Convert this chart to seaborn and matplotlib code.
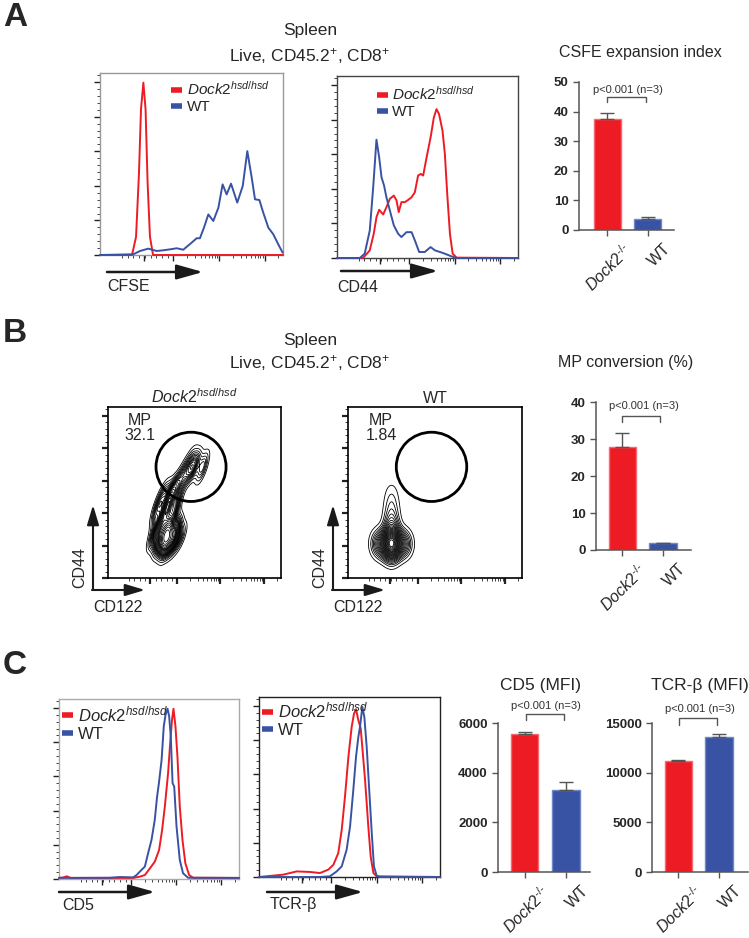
import numpy as np
import pandas as pd
import matplotlib
matplotlib.use('Agg')
import matplotlib.pyplot as plt
import matplotlib.transforms as mtransforms
from matplotlib.lines import Line2D
from matplotlib.patches import Ellipse, FancyArrowPatch
import seaborn as sns

W, H = 749, 938
RED = '#ED1C24'
BLUE = '#3953A4'

# ---------------- data ----------------
groups = ['Dock2-/-', 'WT']
group_ticklabels = [r'$\mathit{Dock2}^{‐/‐}$', 'WT']
ko_label = r'$\mathit{Dock2}^{\mathit{hsd/hsd}}$'

# A: histograms, x in % of axis width, y in % of axis height
cfse_ko_x = [0, 17.5, 19.7, 21.3, 22.4, 23.7, 24.9, 26.0, 27.3, 29.0, 100]
cfse_ko_y = [0, 0, 10, 45, 80, 94.7, 80, 40, 10, 0, 0]
cfse_wt_x = [0, 18.2, 21.9, 26.4, 31.0, 34.6, 38.3, 41.9, 45.5, 50.1, 52.8, 54.6, 56.8, 59.2, 61.9,
             64.7, 67.0, 69.2, 71.6, 75.0, 78.0, 80.5, 82.9, 84.7, 87.1, 89.2, 92.0, 94.7, 97.4, 99.8]
cfse_wt_y = [0, 0.4, 2.2, 3.5, 2.2, 2.6, 3.1, 3.7, 2.9, 6.8, 9.2, 9.2, 15.0, 22.3, 18.7,
             26.0, 38.8, 33.3, 39.2, 28.8, 37.9, 57.1, 42.5, 30.6, 30.2, 23.3, 15.0, 11.4, 5.9, 1.3]

cd44_ko_x = [0, 14.4, 18.1, 20.3, 21.8, 23.3, 25.5, 27.3, 29.2, 31.4, 32.9, 34.1, 35.6, 37.5, 39.3, 41.2,
             43.0, 44.8, 46.3, 47.6, 49.5, 51.7, 53.5, 55.0, 56.4, 58.3, 59.6, 60.9, 62.4, 63.9, 66.1, 100]
cd44_ko_y = [0, 0, 4.2, 13.3, 22.4, 26.5, 23.9, 27.9, 32.5, 34.3, 31.6, 25.2, 30.7, 30.7, 31.9, 33.4,
             36.1, 45.3, 46.2, 45.3, 55.3, 66.2, 77.2, 81.8, 79.0, 69.9, 57.1, 35.2, 13.3, 2.4, 0.2, 0]
cd44_wt_x = [0, 12.6, 15.3, 18.1, 20.0, 21.8, 23.3, 24.6, 26.0, 27.3, 29.2, 31.4, 33.8, 35.6, 38.4,
             41.2, 43.0, 45.4, 48.5, 51.7, 54.1, 58.7, 63.3, 66.1, 100]
cd44_wt_y = [0, 0, 2.4, 15.1, 38.9, 65.0, 55.3, 44.3, 39.8, 33.4, 26.1, 17.9, 13.3, 11.5, 14.2,
             14.2, 9.7, 3.3, 3.3, 6.0, 4.2, 2.7, 0.9, 0, 0]

csfe_mean = [37.5, 3.8]
csfe_sem = [2.0, 0.7]

# B: contour populations (x, y in % of axis, relative weight)
mp_ko_x = [26, 30, 34, 38, 42, 34, 34, 29, 39, 30, 38,
           28, 33, 38, 30, 35, 40, 33, 37,
           41, 46, 50, 55, 48, 54, 44]
mp_ko_y = [24, 24, 24, 24, 24, 18, 30, 29, 29, 19, 19,
           38, 37, 38, 45, 44, 46, 51, 51,
           56, 61, 66, 67, 70, 62, 64]
mp_ko_w = [3, 6, 12, 6, 3, 4, 5, 3, 3, 2, 2,
           3, 5, 3, 2.5, 5, 3, 2, 4,
           3, 3, 5, 2.5, 2, 2, 1.5]
mp_wt_x = [17, 21, 25, 29, 33, 25, 25, 25, 25, 25]
mp_wt_y = [20, 20, 20, 20, 20, 16, 25, 33, 42, 50]
mp_wt_w = [3, 6, 12, 6, 3, 4, 5, 3, 1.5, 0.7]
mp_pct = ['32.1', '1.84']

mp_mean = [27.9, 1.8]
mp_sem = [3.7, 0.15]

# C: histograms
cd5_ko_x = [0, 2.5, 4.3, 6.5, 41.2, 44.9, 47.7, 50.5, 53.2, 55.6, 57.3, 58.8, 60.6, 61.9, 62.8, 63.6,
            64.7, 65.8, 67.1, 68.6, 70.2, 72.3, 74.5, 100]
cd5_ko_y = [0.6, 0.9, 1.5, 0.6, 0.6, 1.3, 2.2, 5.9, 9.6, 16.1, 27.3, 40.3, 58.8, 77.4, 88.5, 94.6,
            84.8, 68.1, 40.3, 21.7, 8.7, 2.2, 0.7, 0.6]
cd5_wt_x = [0, 28.3, 33.8, 41.2, 43.1, 44.9, 47.7, 49.5, 51.4, 53.2, 54.5, 55.5, 57.0, 58.2, 59.2,
            60.3, 61.2, 62.1, 63.1, 64.0, 65.3, 67.1, 68.9, 71.7, 100]
cd5_wt_y = [0.6, 0.7, 1.1, 0.9, 2.2, 4.1, 6.9, 14.3, 21.7, 32.8, 45.8, 53.2, 66.2, 84.8, 91.3,
            94.6, 90.4, 79.2, 53.2, 51.4, 29.1, 10.6, 3.2, 0.7, 0.6]
tcr_ko_x = [0, 13.4, 20.8, 28.2, 33.7, 38.3, 41.1, 43.8, 45.7, 47.5, 49.4, 51.2, 52.5, 53.6, 54.9,
            56.2, 58.6, 60.4, 61.7, 63.2, 65.0, 100]
tcr_ko_y = [0, 1.3, 3.1, 2.8, 2.2, 4.1, 6.8, 13.3, 26.2, 44.6, 66.8, 83.4, 90.8, 93.2, 87.1,
            82.5, 53.9, 28.0, 11.4, 2.2, 0.4, 0]
tcr_wt_x = [0, 22.7, 33.7, 39.2, 42.9, 45.7, 48.4, 50.3, 52.1, 53.6, 54.9, 55.8, 57.1, 58.2, 59.5,
            60.9, 62.3, 63.5, 65.0, 66.9, 100]
tcr_wt_y = [0, 0, 0, 0.4, 3.1, 5.9, 15.1, 28.0, 48.3, 66.8, 77.9, 83.4, 94.5, 88.9, 72.3,
            48.3, 24.4, 5.9, 0.7, 0, 0]

cd5_mean = [5555, 3300]
cd5_sem = [65, 310]
tcr_mean = [11190, 13545]
tcr_sem = [130, 300]

# ---------------- style ----------------
sns.set_style('ticks')
plt.rcParams['font.family'] = ['Liberation Sans', 'DejaVu Sans']
plt.rcParams['mathtext.fontset'] = 'custom'
plt.rcParams['mathtext.rm'] = 'Liberation Sans'
plt.rcParams['mathtext.it'] = 'Liberation Sans:italic'
plt.rcParams['mathtext.bf'] = 'Liberation Sans:bold'

fig = plt.figure(figsize=(W / 100, H / 100), dpi=100)


def px_axes(l, t, r, b):
    """axes from pixel box (left, top, right, bottom)"""
    return fig.add_axes([l / W, 1 - b / H, (r - l) / W, (b - t) / H])


def ftext(x, y, s, **kw):
    fig.text(x / W, 1 - y / H, s, **kw)


def farrow(x0, y0, x1, y1, lw=1.8, hl=1.6, hw=0.45):
    fig.add_artist(FancyArrowPatch((x0 / W, 1 - y0 / H), (x1 / W, 1 - y1 / H),
                                   transform=fig.transFigure, mutation_scale=10,
                                   arrowstyle=f'-|>,head_length={hl},head_width={hw}',
                                   lw=lw, color='#1a1a1a', shrinkA=0, shrinkB=0))


def flow_ticks(ax, width=1.0):
    majors = [24, 40, 65, 90]
    minors = list(np.linspace(12, 37, 9))
    for m in [40, 65]:
        minors += [m + 25 * np.log10(k) for k in range(2, 10)]
    minors += [90 + 25 * np.log10(k) for k in range(2, 3)]
    ax.set_xticks(majors)
    ax.set_xticks(minors, minor=True)
    ax.set_yticks(np.arange(0, 100, 19))
    ax.set_yticks(np.arange(0, 100, 3.8), minor=True)
    ax.tick_params(which='major', length=4, width=width, direction='out',
                   labelleft=False, labelbottom=False, color='#222')
    ax.tick_params(which='minor', length=2, width=0.6, direction='out', color='#222')
    ax.set_xlabel('')
    ax.set_ylabel('')


def hist_panel(rect, curves, frame, anchor, fs):
    ax = px_axes(*rect)
    for xs, ys, c in curves:
        sns.lineplot(x=xs, y=ys, color=c, lw=1.4, ax=ax, sort=False, estimator=None,
                     zorder=3, clip_on=False)
    ax.set_xlim(0, 100)
    ax.set_ylim(0, 100)
    flow_ticks(ax)
    for s in ax.spines.values():
        s.set_color(frame)
        s.set_linewidth(1)
    handles = [Line2D([], [], color=RED, lw=4, solid_capstyle='butt'),
               Line2D([], [], color=BLUE, lw=4, solid_capstyle='butt')]
    ax.legend(handles, [ko_label, 'WT'], loc='upper left', bbox_to_anchor=anchor,
              frameon=False, fontsize=fs, handlelength=0.7, handletextpad=0.3,
              labelspacing=0.15, borderpad=0, borderaxespad=0)
    return ax


def contour_panel(rect, xs, ys, ws, bw, thresh, title, pct, txt_x):
    ax = px_axes(*rect)
    sns.kdeplot(x=xs, y=ys, weights=ws, levels=24, thresh=thresh, bw_adjust=bw,
                color='black', linewidths=0.6, gridsize=200, ax=ax)
    ax.add_patch(Ellipse((48, 65), 40.5, 40.5, fill=False, lw=2, color='black'))
    ax.set_xlim(0, 100)
    ax.set_ylim(0, 100)
    flow_ticks(ax, width=1.6)
    for s in ax.spines.values():
        s.set_color('black')
        s.set_linewidth(1.2)
    ax.set_title(title, fontsize=11.5, pad=3)
    ftext(txt_x, 428, 'MP\n' + pct, ha='center', va='center', fontsize=11.5, linespacing=1.0)
    return ax


def bar_panel(rect, means, sems, xlim, ylim, yticks, title, tx, ty, tfs,
              br_x, br_lo, br_hi, p_y):
    ax = px_axes(*rect)
    sns.barplot(x=groups, y=means, hue=groups, palette=[RED, BLUE], legend=False,
                width=0.67, errorbar=None, saturation=1, ax=ax, linewidth=1)
    for p, ec in zip(ax.patches, ['#F36A70', '#7088C8']):
        p.set_edgecolor(ec)
    ax.errorbar([0, 1], means, yerr=[[0, 0], sems], fmt='none', ecolor='#555',
                elinewidth=1, capsize=5, capthick=1, zorder=1)
    ax.set_xlim(*xlim)
    ax.set_ylim(*ylim)
    ax.set_yticks(yticks)
    ax.set_yticklabels([str(v) for v in yticks], fontweight='bold', fontsize=9.5)
    ax.tick_params(axis='both', length=4, width=1, color='#555')
    ax.tick_params(axis='x', pad=4)
    ax.set_xticks([0, 1], group_ticklabels, rotation=45, ha='right', va='top',
                  rotation_mode='anchor', fontsize=11.5)
    off = mtransforms.ScaledTranslation(0.15, 0, fig.dpi_scale_trans)
    for lab in ax.get_xticklabels():
        lab.set_transform(lab.get_transform() + off)
    sns.despine(ax=ax)
    for s in ['left', 'bottom']:
        ax.spines[s].set_color('#555')
        ax.spines[s].set_linewidth(1.1)
    ax.set_xlabel('')
    ax.set_ylabel('')
    ax.plot([br_x[0], br_x[0], br_x[1], br_x[1]], [br_lo, br_hi, br_hi, br_lo],
            color='#555', lw=1, clip_on=False)
    ax.text(0.52, p_y, 'p<0.001 (n=3)', ha='center', va='center', fontsize=8,
            color='#333', clip_on=False)
    ftext(tx, ty, title, ha='center', va='center', fontsize=tfs)
    return ax


# ---------------- panel A ----------------
ftext(3, 17, 'A', fontsize=24, fontweight='bold', va='center')
ftext(310, 31, 'Spleen', ha='center', va='center', fontsize=12.5)
ftext(310, 56, r'Live, CD45.2$^{+}$, CD8$^{+}$', ha='center', va='center', fontsize=12.5)

hist_panel((100, 73, 283, 255), [(cfse_ko_x, cfse_ko_y, RED), (cfse_wt_x, cfse_wt_y, BLUE)],
           '#999999', (0.39, 0.96), 11)
hist_panel((337, 76, 518, 258), [(cd44_ko_x, cd44_ko_y, RED), (cd44_wt_x, cd44_wt_y, BLUE)],
           '#444444', (0.22, 0.95), 11)
farrow(107, 272, 203, 272)
ftext(107, 286, 'CFSE', va='center', fontsize=11.5)
farrow(341, 271, 438, 271)
ftext(337, 287, 'CD44', va='center', fontsize=11.5)

bar_panel((579, 82, 674, 230), csfe_mean, csfe_sem, (-0.71, 1.66), (0, 50), [0, 10, 20, 30, 40, 50],
          'CSFE expansion index', 640, 52, 11.5, (0, 0.95), 43.1, 45.1, 47.2)

# ---------------- panel B ----------------
ftext(3, 333, 'B', fontsize=24, fontweight='bold', va='center')
ftext(310, 340, 'Spleen', ha='center', va='center', fontsize=12.5)
ftext(310, 363, r'Live, CD45.2$^{+}$, CD8$^{+}$', ha='center', va='center', fontsize=12.5)

contour_panel((108, 407, 281, 578), mp_ko_x, mp_ko_y, mp_ko_w, 0.62, 0.05, ko_label, mp_pct[0], 140)
contour_panel((348, 407, 522, 578), mp_wt_x, mp_wt_y, mp_wt_w, 1.0, 0.03, 'WT', mp_pct[1], 381)
for cx, tipx in [(93, 145), (333, 385)]:
    farrow(cx, 590, cx, 505, lw=1.5, hl=1.2, hw=0.36)
    farrow(cx - 1, 590, tipx, 590, lw=1.5, hl=1.2, hw=0.36)
    ftext(cx - 13, 567, 'CD44', rotation=90, ha='center', va='center', fontsize=11.5)
    ftext(cx, 607, 'CD122', ha='left', va='center', fontsize=11.5)

bar_panel((596, 402, 691, 550), mp_mean, mp_sem, (-0.65, 1.69), (0, 40), [0, 10, 20, 30, 40],
          'MP conversion (%)', 626, 363, 11.5, (0, 0.93), 34.5, 36.1, 38.8)

# ---------------- panel C ----------------
ftext(3, 665, 'C', fontsize=24, fontweight='bold', va='center')
hist_panel((59, 699, 239, 879), [(cd5_ko_x, cd5_ko_y, RED), (cd5_wt_x, cd5_wt_y, BLUE)],
           '#aaaaaa', (0.015, 0.97), 12)
hist_panel((259, 697, 440, 877), [(tcr_ko_x, tcr_ko_y, RED), (tcr_wt_x, tcr_wt_y, BLUE)],
           '#222222', (0.015, 0.98), 12)
farrow(59, 892, 155, 892)
ftext(62, 905, 'CD5', va='center', fontsize=11.5)
farrow(267, 892, 363, 892)
ftext(270, 905, 'TCR-β', va='center', fontsize=11.5)

bar_panel((498, 723, 590, 872), cd5_mean, cd5_sem, (-0.65, 1.59), (0, 6000), [0, 2000, 4000, 6000],
          'CD5 (MFI)', 540, 685, 12.5, (0.02, 0.96), 6133, 6364, 6670)
bar_panel((652, 723, 748, 872), tcr_mean, tcr_sem, (-0.65, 1.71), (0, 15000), [0, 5000, 10000, 15000],
          'TCR-β (MFI)', 700, 685, 12.5, (0.02, 0.94), 14830, 15505, 16415)

fig.savefig('out.png', dpi=100)
